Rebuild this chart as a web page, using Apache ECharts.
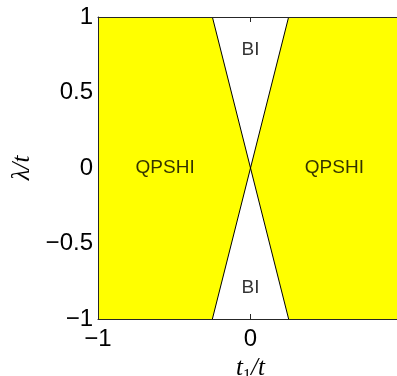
<!DOCTYPE html>
<html><head><meta charset="utf-8">
<script src="https://cdn.jsdelivr.net/npm/echarts@6/dist/echarts.min.js"></script>
<style>html,body{margin:0;padding:0;background:#fff}#c{width:397px;height:376px}</style>
</head><body><div id="c"></div>
<script>
// Phase regions (t1/t, lambda/t) vertices
const qpshiLeft = [[-1,-1],[-0.25,-1],[0,0],[-0.25,1],[-1,1]];
const qpshiRight = [[1,-1],[0.25,-1],[0,0],[0.25,1],[1,1]];
const boundaryA = [[-0.25,1],[0.25,-1]];
const boundaryB = [[0.25,1],[-0.25,-1]];
const regionLabels = [[-0.56,0,'QPSHI'],[0.55,0,'QPSHI'],[0,0.78,'BI'],[0,-0.79,'BI']];
const xTicks = [-1,0,1];
const yTicks = [-1,-0.5,0,0.5,1];

const chart = echarts.init(document.getElementById('c'));
const polys = [qpshiLeft, qpshiRight];
const tickFont = {color:'#000', fontSize:24, fontFamily:'Liberation Sans, Arial'};
const fmt = v => (v<0?'\u2212':'') + Math.abs(v);
const serif = 'Liberation Serif, Times New Roman';
chart.setOption({
  animation:false,
  grid:{left:98, top:17, width:305, height:302, containLabel:false, outerBoundsMode:'none'},
  xAxis:[{
    type:'value', min:-1, max:1, interval:1, position:'bottom', z:5,
    axisLine:{show:true, onZero:false, lineStyle:{color:'#262626', width:1}},
    axisTick:{show:true, inside:true, length:5, lineStyle:{color:'#262626'}},
    splitLine:{show:false},
    axisLabel:Object.assign({margin:8, formatter:fmt}, tickFont),
    name:'{i|t}{s|1}{i|/t}', nameLocation:'middle', nameGap:26,
    nameTextStyle:{color:'#000', rich:{
      i:{fontSize:25, fontStyle:'italic', fontFamily:serif, lineHeight:30, verticalAlign:'middle', color:'#000'},
      s:{fontSize:16, fontFamily:serif, lineHeight:15, verticalAlign:'bottom', color:'#000'}
    }}
  },{
    type:'value', min:-1, max:1, interval:1, position:'top', z:5,
    axisLine:{show:true, onZero:false, lineStyle:{color:'#262626', width:1}},
    axisTick:{show:true, inside:true, length:5, lineStyle:{color:'#262626'}},
    splitLine:{show:false}, axisLabel:{show:false}
  }],
  yAxis:[{
    type:'value', min:-1, max:1, interval:0.5, position:'left', z:5,
    axisLine:{show:true, onZero:false, lineStyle:{color:'#262626', width:1}},
    axisTick:{show:false},
    splitLine:{show:false},
    axisLabel:Object.assign({margin:5, formatter:fmt}, tickFont),
    name:'\u03bb/t', nameLocation:'middle', nameGap:60, nameRotate:90,
    nameTextStyle:{color:'#000', fontSize:25, fontStyle:'italic', fontFamily:serif}
  }],
  series:[{
    type:'custom', z:2, clip:false,
    data: polys.map((p,i)=>i),
    renderItem:(params, api)=>{
      const pts = polys[params.dataIndex].map(pt=>api.coord(pt));
      return {type:'polygon', shape:{points:pts}, style:{fill:'#FFFF00', stroke:null}};
    }
  },{
    type:'line', z:3, data:boundaryA, symbol:'none', lineStyle:{color:'#000', width:1}
  },{
    type:'line', z:3, data:boundaryB, symbol:'none', lineStyle:{color:'#000', width:1}
  },{
    type:'scatter', z:4, symbolSize:0,
    data: regionLabels.map(d=>({value:[d[0],d[1]], name:d[2]})),
    label:{show:true, position:'inside', formatter:p=>p.name, color:'#000', fontSize:19, fontFamily:'Liberation Sans, Arial'}
  }]
});
</script></body></html>
